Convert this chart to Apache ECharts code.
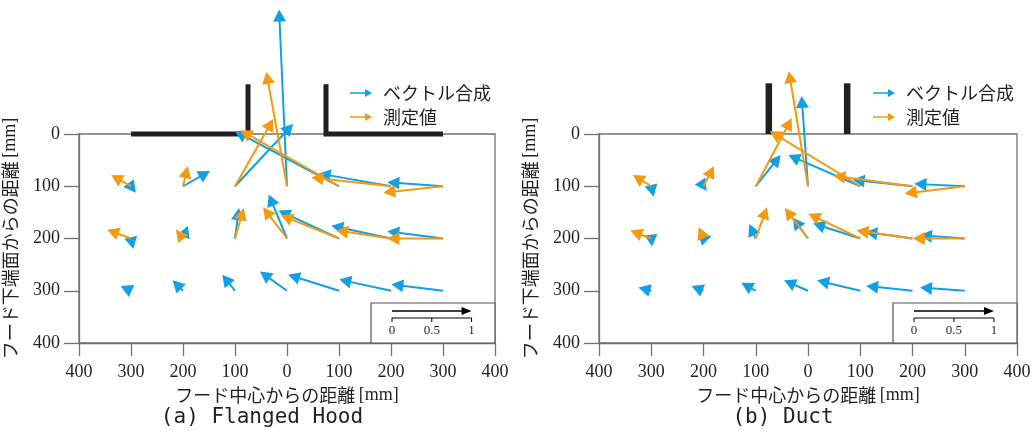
<!DOCTYPE html>
<html><head><meta charset="utf-8">
<script src="https://cdn.jsdelivr.net/npm/echarts@6/dist/echarts.min.js"></script>
<style>html,body{margin:0;padding:0;background:#fff}#c{width:1035px;height:430px}</style>
</head><body><div id="c"></div>
<script>
// ---- data ----
const gridX = [-300, -200, -100, 0, 100, 200, 300];   // mm from hood centre
const rowsY = [100, 200, 300];                         // mm below hood face
const xTicks = [-400, -300, -200, -100, 0, 100, 200, 300, 400];
const yTicks = [0, 100, 200, 300, 400];
const scaleTicks = [0, 0.5, 1];

// (a) Flanged hood : vector synthesis (blue) u = rightward, w = upward, per row
const hoodSynU = [[0.06, 0.34, 0.73, -0.10, -1.31, -0.91, -0.70],
                  [0.03, 0.06, 0.05, -0.23, -0.76, -0.75, -0.70],
                  [-0.13, -0.13, -0.16, -0.34, -0.64, -0.65, -0.65]];
const hoodSynW = [[-0.08, 0.19, 0.78, 2.21, 0.69, 0.16, 0.05],
                  [-0.13, 0.16, 0.38, 0.55, 0.35, 0.16, 0.09],
                  [0.06, 0.13, 0.20, 0.24, 0.20, 0.14, 0.08]];
// (a) measured (orange), rows 100 and 200
const hoodMeasU = [[-0.25, 0.06, 0.48, -0.26, -1.24, -1.00, -0.75],
                   [-0.30, -0.09, 0.11, -0.30, -0.73, -0.69, -0.70]];
const hoodMeasW = [[0.14, 0.25, 0.84, 1.43, 0.70, 0.11, -0.08],
                   [0.11, 0.11, 0.38, 0.39, 0.29, 0.10, 0.00]];
// (b) Duct
const ductSynU = [[0.03, 0.04, 0.31, -0.08, -0.90, -0.75, -0.63],
                  [0.01, 0.10, -0.08, -0.19, -0.59, -0.59, -0.56],
                  [-0.16, -0.15, -0.18, -0.30, -0.54, -0.58, -0.56]];
const ductSynW = [[-0.13, -0.06, 0.39, 1.13, 0.39, 0.08, 0.03],
                  [-0.10, 0.03, 0.18, 0.26, 0.19, 0.08, 0.04],
                  [0.04, 0.06, 0.10, 0.13, 0.13, 0.06, 0.04]];
const ductMeasU = [[-0.23, 0.13, 0.45, -0.24, -1.13, -0.99, -0.75],
                   [-0.26, -0.06, 0.14, -0.29, -0.65, -0.70, -0.65]];
const ductMeasW = [[0.14, 0.25, 0.85, 1.44, 0.69, 0.13, -0.09],
                   [0.10, 0.14, 0.39, 0.38, 0.31, 0.10, 0.00]];

// hood outlines (mm)
const flangeX = [[-300, -75, -75], [75, 75, 300]];
const flangeY = [[0, 0, -95], [-95, 0, 0]];
const ductX = [[-75, -75], [75, 75]];
const ductY = [[0, -97], [-97, 0]];

const panelTitles = ['(a) Flanged Hood', '(b) Duct'];
const seriesNames = ['ベクトル合成', '測定値'];
// ---- end data ----

const UNIT = 153;            // mm drawn per unit of the scale arrow
const BLUE = '#12a0e4', ORANGE = '#f39a10', INK = '#231f20', AX = '#707070';
const JP = '"Noto Sans CJK JP", sans-serif', SERIF = '"Liberation Serif", serif';

function toData(U, W) {
  const d = [];
  U.forEach((row, r) => row.forEach((u, i) => d.push([gridX[i], rowsY[r], u, W[r][i]])));
  return d;
}
function arrowItem(color) {
  return function (params, api) {
    const x = api.value(0), y = api.value(1), u = api.value(2), w = api.value(3);
    const p0 = api.coord([x, y]);
    const p1 = api.coord([x + u * UNIT, y - w * UNIT]);
    const dx = p1[0] - p0[0], dy = p1[1] - p0[1];
    const L = Math.hypot(dx, dy) || 1, ux = dx / L, uy = dy / L;
    const HL = 12, HW = 6.5;
    const bx = p1[0] - ux * HL, by = p1[1] - uy * HL;
    const ch = [];
    if (L > HL) ch.push({type: 'line', shape: {x1: p0[0], y1: p0[1], x2: bx + ux, y2: by + uy},
                         style: {stroke: color, lineWidth: 2}});
    ch.push({type: 'polygon', shape: {points: [[p1[0], p1[1]], [bx - uy * HW, by + ux * HW], [bx + uy * HW, by - ux * HW]]},
             style: {fill: color}});
    return {type: 'group', children: ch};
  };
}
function outlineItem(PX, PY, width) {
  return function (params, api) {
    const k = api.value(0);
    const pts = PX[k].map((x, j) => api.coord([x, PY[k][j]]));
    return {type: 'polyline', shape: {points: pts},
            style: {stroke: INK, lineWidth: width, lineJoin: 'miter', lineCap: 'butt', fill: null}};
  };
}
function scaleItem(params, api) {
  const br = api.coord([400, 400]);
  const len = api.coord([UNIT, 0])[0] - api.coord([0, 0])[0];
  const R = br[0], B = br[1];
  const x0 = R - 103;
  const ch = [
    {type: 'rect', shape: {x: R - 124, y: B - 40, width: 124, height: 40}, style: {fill: '#fff', stroke: '#555', lineWidth: 1.2}},
    {type: 'line', shape: {x1: x0, y1: B - 32, x2: x0 + len - 8, y2: B - 32}, style: {stroke: '#000', lineWidth: 1.5}},
    {type: 'polygon', shape: {points: [[x0 + len, B - 32], [x0 + len - 10, B - 36], [x0 + len - 10, B - 28]]}, style: {fill: '#000'}},
    {type: 'line', shape: {x1: x0, y1: B - 25, x2: x0 + len, y2: B - 25}, style: {stroke: '#000', lineWidth: 1}}
  ];
  scaleTicks.forEach(t => {
    const xx = x0 + t * len;
    ch.push({type: 'line', shape: {x1: xx, y1: B - 25, x2: xx, y2: B - 21}, style: {stroke: '#000', lineWidth: 1}});
    ch.push({type: 'text', x: xx, y: B - 12, style: {text: String(t), font: '13px ' + SERIF, fill: INK, align: 'center', verticalAlign: 'middle'}});
  });
  return {type: 'group', children: ch};
}

const grids = [{left: 77, width: 418, top: 134, bottom: 87}, {left: 599, width: 418, top: 134, bottom: 87}];
const xAxes = [], yAxes = [], series = [];
grids.forEach((g, gi) => {
  g.show = true; g.borderColor = AX; g.borderWidth = 1.3;
  xAxes.push({gridIndex: gi, type: 'value', min: -400, max: 400, interval: 100,
    axisLine: {onZero: false, lineStyle: {color: AX, width: 1.3}},
    axisTick: {length: 13, lineStyle: {color: AX, width: 1.3}},
    splitLine: {show: false},
    axisLabel: {margin: 20, fontFamily: SERIF, fontSize: 18, color: INK, formatter: v => String(Math.abs(v))},
    name: '{j|フード中心からの距離} {m|[mm]}', nameLocation: 'middle', nameGap: 43,
    nameTextStyle: {rich: {j: {fontFamily: JP, fontSize: 18, color: INK}, m: {fontFamily: SERIF, fontSize: 18, color: INK}}}
  });
  yAxes.push({gridIndex: gi, type: 'value', min: 0, max: 400, interval: 100, inverse: true,
    axisLine: {show: true, onZero: false, lineStyle: {color: AX, width: 1.3}},
    axisTick: {length: 15, lineStyle: {color: AX, width: 1.3}},
    splitLine: {show: false},
    axisLabel: {margin: 19, fontFamily: SERIF, fontSize: 18, color: INK},
    name: '{j|フード下端面からの距離} {m|[mm]}', nameLocation: 'middle', nameGap: 60, nameRotate: 90,
    nameTextStyle: {rich: {j: {fontFamily: JP, fontSize: 18, color: INK}, m: {fontFamily: SERIF, fontSize: 18, color: INK}}}
  });
  const syn = gi === 0 ? toData(hoodSynU, hoodSynW) : toData(ductSynU, ductSynW);
  const meas = gi === 0 ? toData(hoodMeasU, hoodMeasW) : toData(ductMeasU, ductMeasW);
  const PX = gi === 0 ? flangeX : ductX, PY = gi === 0 ? flangeY : ductY;
  series.push({type: 'custom', name: 'outline' + gi, xAxisIndex: gi, yAxisIndex: gi, silent: true,
    renderItem: outlineItem(PX, PY, gi === 0 ? 5 : 6.5), data: PX.map((_, k) => [k]), encode: {x: -1, y: -1}, z: 3});
  series.push({type: 'custom', name: seriesNames[0], xAxisIndex: gi, yAxisIndex: gi, itemStyle: {color: BLUE},
    renderItem: arrowItem(BLUE), data: syn, encode: {x: 0, y: 1}, z: 4});
  series.push({type: 'custom', name: seriesNames[1], xAxisIndex: gi, yAxisIndex: gi, itemStyle: {color: ORANGE},
    renderItem: arrowItem(ORANGE), data: meas, encode: {x: 0, y: 1}, z: 5});
  series.push({type: 'custom', name: 'scale' + gi, xAxisIndex: gi, yAxisIndex: gi, silent: true,
    renderItem: scaleItem, data: [[0]], encode: {x: -1, y: -1}, z: 2});
});

const legendBase = {data: seriesNames, orient: 'vertical', top: 79, itemWidth: 22, itemHeight: 8, itemGap: 6,
  icon: 'path://M0,3.2 L15,3.2 L15,0 L22,4 L15,8 L15,4.8 L0,4.8 Z', selectedMode: false,
  textStyle: {fontFamily: JP, fontSize: 18, color: INK, padding: [0, 0, 0, 6]}};

const chart = echarts.init(document.getElementById('c'), null, {renderer: 'canvas'});
chart.setOption({
  animation: false,
  backgroundColor: '#fff',
  grid: grids, xAxis: xAxes, yAxis: yAxes, series: series,
  legend: [Object.assign({left: 345}, legendBase), Object.assign({left: 868}, legendBase)],
  graphic: panelTitles.map((t, i) => ({type: 'text', x: i === 0 ? 262 : 783, y: 418,
    style: {text: t, font: '21px "DejaVu Sans Mono", monospace', fill: INK, align: 'center', verticalAlign: 'middle'}}))
});
</script></body></html>
